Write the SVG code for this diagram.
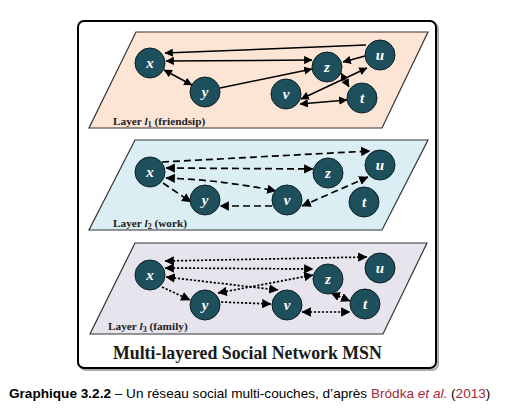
<svg xmlns="http://www.w3.org/2000/svg" width="512" height="416" viewBox="0 0 512 416">
<style>
.layer{stroke:#333;stroke-width:1.2}
.node{fill:#1d4f5c;stroke:#0d1f24;stroke-width:1}
.nl{font-family:"Liberation Serif",serif;font-style:italic;font-weight:bold;font-size:15px;fill:#fff;text-anchor:middle}
.ll{font-family:"Liberation Serif",serif;font-weight:bold;font-size:11.3px;fill:#222}
.e{fill:none;stroke:#000;stroke-width:1.5}
.d{stroke-dasharray:7,4;stroke-width:1.7}
.o{stroke-dasharray:2.2,1.8;stroke-width:1.7}
.title{font-family:"Liberation Serif",serif;font-weight:bold;font-size:17.8px;fill:#1a1a1a}
.cap{font-family:"Liberation Sans",sans-serif;font-size:13.6px;fill:#000}
</style>
<defs>
<marker id="a" viewBox="0 0 10 10" refX="9.5" refY="5" markerWidth="5.5" markerHeight="5.5" orient="auto-start-reverse" markerUnits="strokeWidth">
<path d="M0,0 L10,5 L0,10 z" fill="#000"/>
</marker>
</defs>
<rect x="80" y="23" width="358" height="347" rx="6" fill="none" stroke="#aaa" stroke-width="2"/>
<rect x="78" y="21" width="358" height="347" rx="6" fill="#fff" stroke="#000" stroke-width="2"/>

<polygon class="layer" points="136,32 428,32 382,128 89,128" fill="#fce5d5"/>
<polygon class="layer" points="135,140 428,140 382,230 89,230" fill="#dbeef3"/>
<polygon class="layer" points="135,243 427,243 383,334 90,334" fill="#e7e4ee"/>

<g id="connectors">
<!-- layer 1 -->
<line class="e" x1="366" y1="45" x2="165" y2="53" marker-end="url(#a)"/>
<line class="e" x1="166" y1="61" x2="312" y2="60" marker-start="url(#a)" marker-end="url(#a)"/>
<line class="e" x1="164" y1="70" x2="192" y2="85" marker-start="url(#a)" marker-end="url(#a)"/>
<line class="e" x1="220" y1="88" x2="312" y2="69" marker-end="url(#a)"/>
<line class="e" x1="365" y1="56" x2="343" y2="62" marker-end="url(#a)"/>
<line class="e" x1="341" y1="73" x2="349" y2="87" marker-start="url(#a)" marker-end="url(#a)"/>
<line class="e" x1="367" y1="68" x2="301" y2="99" marker-start="url(#a)" marker-end="url(#a)"/>
<line class="e" x1="300" y1="104" x2="347" y2="100" marker-start="url(#a)" marker-end="url(#a)"/>
<!-- layer 2 -->
<line class="e d" x1="162" y1="162" x2="370" y2="151" marker-end="url(#a)"/>
<line class="e d" x1="166" y1="168" x2="313" y2="169" marker-start="url(#a)" marker-end="url(#a)"/>
<path class="e d" d="M166,178 Q222,180 276,191" marker-start="url(#a)" marker-end="url(#a)"/>
<line class="e d" x1="163" y1="183" x2="191" y2="202" marker-end="url(#a)"/>
<line class="e d" x1="272" y1="206" x2="220" y2="206" marker-end="url(#a)"/>
<line class="e d" x1="368" y1="177" x2="302" y2="206" marker-start="url(#a)" marker-end="url(#a)"/>
<!-- layer 3 -->
<line class="e o" x1="165" y1="261" x2="367" y2="257" marker-start="url(#a)" marker-end="url(#a)"/>
<line class="e o" x1="165" y1="268" x2="313" y2="269" marker-start="url(#a)" marker-end="url(#a)"/>
<line class="e o" x1="166" y1="277" x2="278" y2="290" marker-start="url(#a)" marker-end="url(#a)"/>
<line class="e o" x1="218" y1="293" x2="313" y2="275" marker-start="url(#a)" marker-end="url(#a)"/>
<line class="e o" x1="162" y1="287" x2="190" y2="300" marker-end="url(#a)"/>
<line class="e o" x1="221" y1="302" x2="271" y2="304" marker-end="url(#a)"/>
<line class="e o" x1="331" y1="293" x2="350" y2="301" marker-start="url(#a)" marker-end="url(#a)"/>
<line class="e o" x1="302" y1="312" x2="350" y2="312" marker-start="url(#a)" marker-end="url(#a)"/>
</g>

<g id="l1-x"><circle class="node" cx="150" cy="63" r="15"/><text class="nl" x="150" y="68">x</text></g>
<g id="l1-y"><circle class="node" cx="205" cy="92" r="15"/><text class="nl" x="205" y="97">y</text></g>
<g id="l1-z"><circle class="node" cx="327" cy="67" r="15"/><text class="nl" x="327" y="72">z</text></g>
<g id="l1-u"><circle class="node" cx="380" cy="55" r="15"/><text class="nl" x="380" y="60">u</text></g>
<g id="l1-v"><circle class="node" cx="286" cy="94" r="15"/><text class="nl" x="286" y="99">v</text></g>
<g id="l1-t"><circle class="node" cx="362" cy="98" r="15"/><text class="nl" x="362" y="103">t</text></g>

<g id="l2-x"><circle class="node" cx="150" cy="172" r="15"/><text class="nl" x="150" y="177">x</text></g>
<g id="l2-y"><circle class="node" cx="205" cy="200" r="15"/><text class="nl" x="205" y="205">y</text></g>
<g id="l2-z"><circle class="node" cx="328" cy="173" r="15"/><text class="nl" x="328" y="178">z</text></g>
<g id="l2-u"><circle class="node" cx="380" cy="165" r="15"/><text class="nl" x="380" y="170">u</text></g>
<g id="l2-v"><circle class="node" cx="287" cy="200" r="15"/><text class="nl" x="287" y="205">v</text></g>
<g id="l2-t"><circle class="node" cx="364" cy="202" r="15"/><text class="nl" x="364" y="207">t</text></g>

<g id="l3-x"><circle class="node" cx="150" cy="275" r="15"/><text class="nl" x="150" y="280">x</text></g>
<g id="l3-y"><circle class="node" cx="205" cy="305" r="15"/><text class="nl" x="205" y="310">y</text></g>
<g id="l3-z"><circle class="node" cx="328" cy="279" r="15"/><text class="nl" x="328" y="284">z</text></g>
<g id="l3-u"><circle class="node" cx="380" cy="268" r="15"/><text class="nl" x="380" y="273">u</text></g>
<g id="l3-v"><circle class="node" cx="287" cy="305" r="15"/><text class="nl" x="287" y="310">v</text></g>
<g id="l3-t"><circle class="node" cx="365" cy="304" r="15"/><text class="nl" x="365" y="309">t</text></g>

<text class="ll" x="113" y="125">Layer <tspan font-style="italic">l</tspan><tspan font-size="8" dy="2">1</tspan><tspan dy="-2"> (friendsip)</tspan></text>
<text class="ll" x="113" y="227">Layer <tspan font-style="italic">l</tspan><tspan font-size="8" dy="2">2</tspan><tspan dy="-2"> (work)</tspan></text>
<text class="ll" x="108" y="330">Layer <tspan font-style="italic">l</tspan><tspan font-size="8" dy="2">3</tspan><tspan dy="-2"> (family)</tspan></text>

<text class="title" x="113" y="359">Multi-layered Social Network MSN</text>

<text class="cap" x="9" y="398"><tspan font-weight="bold">Graphique 3.2.2</tspan> – Un réseau social multi-couches, d’après <tspan fill="#a5283c">Bródka <tspan font-style="italic">et al.</tspan></tspan> (<tspan fill="#a5283c">2013</tspan>)</text>
</svg>
